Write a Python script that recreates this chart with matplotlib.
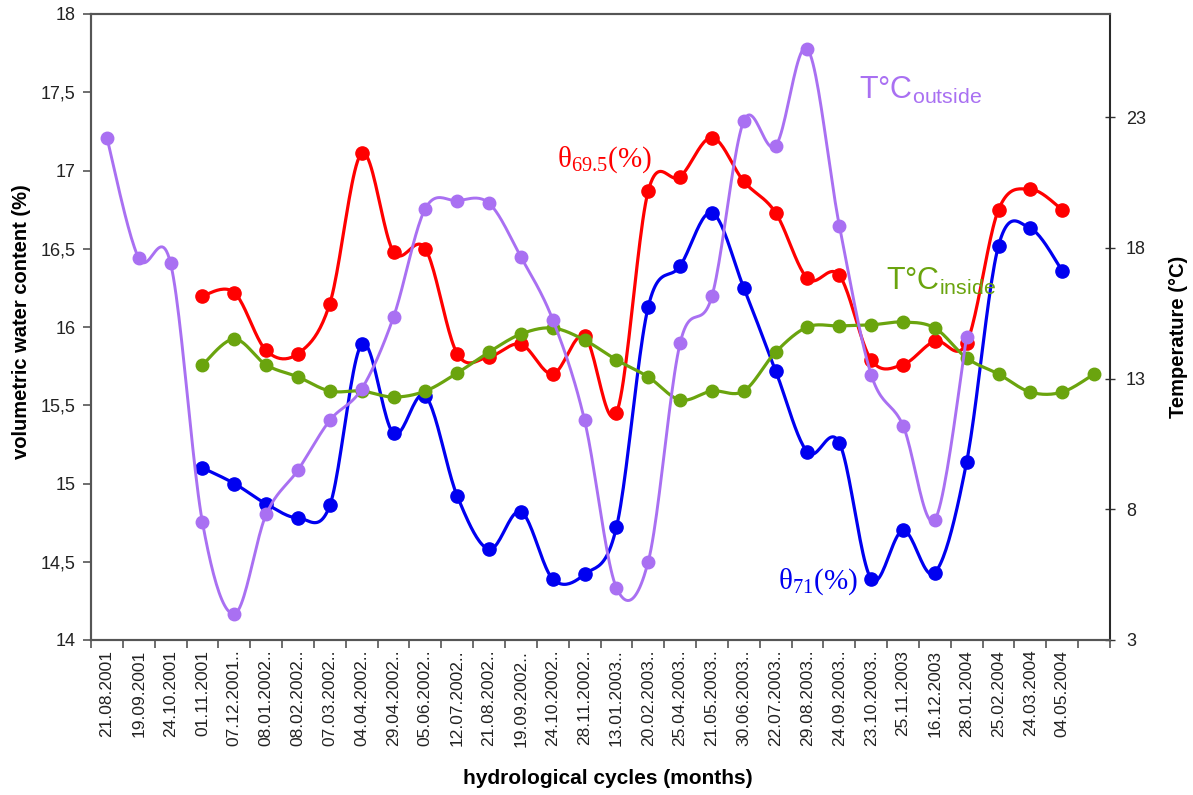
import numpy as np
import matplotlib
matplotlib.use("Agg")
import matplotlib.pyplot as plt

# ---------------- data ----------------
dates = ["21.08.2001", "19.09.2001", "24.10.2001", "01.11.2001", "07.12.2001..",
         "08.01.2002..", "08.02.2002..", "07.03.2002..", "04.04.2002..", "29.04.2002..",
         "05.06.2002..", "12.07.2002..", "21.08.2002..", "19.09.2002..", "24.10.2002..",
         "28.11.2002..", "13.01.2003..", "20.02.2003..", "25.04.2003..", "21.05.2003..",
         "30.06.2003..", "22.07.2003..", "29.08.2003..", "24.09.2003..", "23.10.2003..",
         "25.11.2003", "16.12.2003", "28.01.2004", "25.02.2004", "24.03.2004",
         "04.05.2004", ""]

# theta 69.5 (%) - left axis, categories 3..30
theta695 = [16.20, 16.22, 15.85, 15.83, 16.15, 17.11, 16.48, 16.50, 15.83, 15.81,
            15.89, 15.70, 15.94, 15.45, 16.87, 16.96, 17.21, 16.93, 16.73, 16.31,
            16.33, 15.79, 15.76, 15.91, 15.90, 16.75, 16.88, 16.75]
# theta 71 (%) - left axis, categories 3..30
theta71 = [15.10, 15.00, 14.87, 14.78, 14.86, 15.89, 15.32, 15.56, 14.92, 14.58,
           14.82, 14.39, 14.42, 14.72, 16.13, 16.39, 16.73, 16.25, 15.72, 15.20,
           15.26, 14.39, 14.70, 14.43, 15.14, 16.52, 16.63, 16.36]
# T outside (deg C) - right axis, categories 0..27
t_out = [22.2, 17.6, 17.4, 7.5, 4.0, 7.8, 9.5, 11.4, 12.6, 15.35,
         19.5, 19.8, 19.7, 17.65, 15.25, 11.4, 5.0, 6.0, 14.35, 16.15,
         22.85, 21.9, 25.6, 18.85, 13.15, 11.2, 7.6, 14.6]
# T inside (deg C) - right axis, categories 3..31
t_in = [13.52, 14.51, 13.52, 13.06, 12.52, 12.52, 12.29, 12.52, 13.21, 14.01,
        14.70, 14.93, 14.47, 13.71, 13.06, 12.18, 12.52, 12.52, 14.01, 14.97,
        15.01, 15.05, 15.16, 14.93, 13.78, 13.17, 12.48, 12.48, 13.17]

left_ticks = [14, 14.5, 15, 15.5, 16, 16.5, 17, 17.5, 18]
left_ticklabels = ["14", "14,5", "15", "15,5", "16", "16,5", "17", "17,5", "18"]
right_ticks = [3, 8, 13, 18, 23]

# ---------------- helpers ----------------
def smooth(xs, ys, n=24):
    """Excel-like smoothed line (Catmull-Rom Bezier)."""
    x = np.asarray(xs, float)
    y = np.asarray(ys, float)
    P = np.column_stack([x, y])
    out = []
    m = len(P)
    for i in range(m - 1):
        p0 = P[i - 1] if i > 0 else P[i]
        p1 = P[i]
        p2 = P[i + 1]
        p3 = P[i + 2] if i + 2 < m else P[i + 1]
        b1 = p1 + (p2 - p0) / 6.0
        b2 = p2 - (p3 - p1) / 6.0
        t = np.linspace(0, 1, n)[:, None]
        seg = ((1 - t) ** 3) * p1 + 3 * ((1 - t) ** 2) * t * b1 + 3 * (1 - t) * t ** 2 * b2 + t ** 3 * p2
        if i > 0:
            seg = seg[1:]
        out.append(seg)
    c = np.vstack(out)
    return c[:, 0], c[:, 1]

# ---------------- figure ----------------
plt.rcParams['font.family'] = ['Liberation Sans', 'DejaVu Sans']
fig = plt.figure(figsize=(11.93, 7.95), dpi=100)
ax = fig.add_axes([91 / 1193, 1 - 640 / 795, (1110 - 91) / 1193, (640 - 14) / 795])
ax2 = ax.twinx()

RED = '#FF0000'
BLUE = '#0000F0'
GREEN = '#6AA40E'
PURPLE = '#A970F2'

x_t695 = np.arange(3, 3 + len(theta695))
x_t71 = np.arange(3, 3 + len(theta71))
x_out = np.arange(0, len(t_out))
x_in = np.arange(3, 3 + len(t_in))

lw = 2.3
sx, sy = smooth(x_t695, theta695)
ax.plot(sx, sy, color=RED, lw=lw, zorder=3)
ax.plot(x_t695, theta695, 'o', color=RED, ms=9.5, zorder=4)
sx, sy = smooth(x_t71, theta71)
ax.plot(sx, sy, color=BLUE, lw=lw, zorder=3)
ax.plot(x_t71, theta71, 'o', color=BLUE, ms=9.5, zorder=4)

sx, sy = smooth(x_in, t_in)
ax2.plot(sx, sy, color=GREEN, lw=lw, zorder=3)
ax2.plot(x_in, t_in, 'o', color=GREEN, ms=9, zorder=4)
sx, sy = smooth(x_out, t_out)
ax2.plot(sx, sy, color=PURPLE, lw=2.1, zorder=5)
ax2.plot(x_out, t_out, 'o', color=PURPLE, ms=9, zorder=6)

# axes limits / ticks
ax.set_xlim(-0.5, len(dates) - 0.5)
ax.set_ylim(14, 18)
ax2.set_ylim(3, 3 + (640 - 14) / 26.15)

ax.set_yticks(left_ticks)
ax.set_yticklabels(left_ticklabels, fontsize=13, color='#222222')
ax2.set_yticks(right_ticks)
ax2.set_yticklabels([str(t) for t in right_ticks], fontsize=13, color='#222222')

ax.set_xticks(np.arange(len(dates)))
ax.set_xticklabels(dates, rotation=90, fontsize=12.5, color='#222222')
ax.set_xticks(np.arange(len(dates) + 1) - 0.5, minor=True)
ax.tick_params(axis='x', which='major', length=0, pad=7)
ax.tick_params(axis='x', which='minor', length=6, width=1.2, direction='out', color='#555555')
ax.tick_params(axis='y', length=6, width=1.2, direction='out', color='#555555', pad=5)
ax2.tick_params(axis='y', length=7, width=1.0, direction='inout', color='#333333', pad=8)

for a in (ax, ax2):
    for s in a.spines.values():
        s.set_linewidth(1.5)
        s.set_color('#555555')
ax2.spines['right'].set_color('#222222')
ax2.spines['right'].set_linewidth(1.2)

# axis labels
fig.text(22 / 1193, 1 - 322 / 795, "volumetric water content (%)", rotation=90,
         ha='center', va='center', fontsize=14.5, fontweight='bold')
fig.text(1178 / 1193, 1 - 337 / 795, "Temperature (°C)", rotation=90,
         ha='center', va='center', fontsize=14.5, fontweight='bold')
fig.text(608 / 1193, 1 - 778 / 795, "hydrological cycles (months)",
         ha='center', va='center', fontsize=15, fontweight='bold')

# annotations
fig.text(557 / 1193, 1 - 160 / 795, 'θ$_\\mathregular{69.5}$(%)', color=RED,
         family=['Liberation Serif', 'DejaVu Serif'], fontsize=21, ha='left', va='center')
fig.text(778 / 1193, 1 - 582 / 795, 'θ$_\\mathregular{71}$(%)', color=BLUE,
         family=['Liberation Serif', 'DejaVu Serif'], fontsize=21, ha='left', va='center')
fig.text(859 / 1193, 1 - 90 / 795, 'T°C$_\\mathregular{outside}$', color=PURPLE,
         fontsize=22, ha='left', va='center')
fig.text(886 / 1193, 1 - 281 / 795, 'T°C$_\\mathregular{inside}$', color=GREEN,
         fontsize=22, ha='left', va='center')

fig.savefig("out.png", dpi=100)
